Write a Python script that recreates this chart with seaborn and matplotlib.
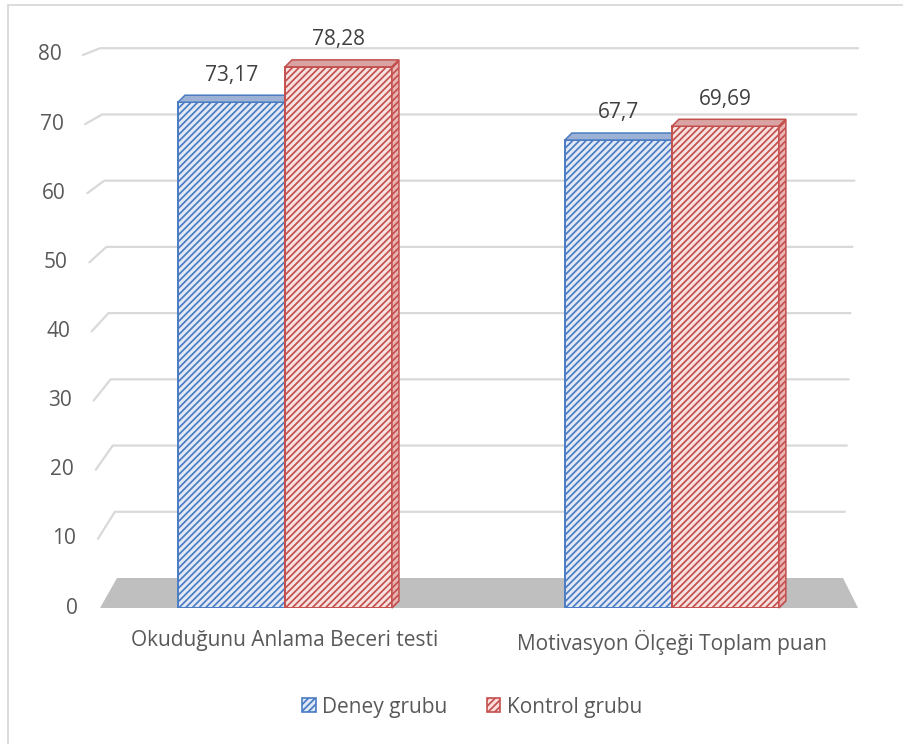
import numpy as np
import pandas as pd
import matplotlib
matplotlib.use("Agg")
import matplotlib.pyplot as plt
import seaborn as sns
from matplotlib.patches import Polygon, Rectangle, Patch

# ---- data ----
categories = ["Okuduğunu Anlama Beceri testi", "Motivasyon Ölçeği Toplam puan"]
series_names = ["Deney grubu", "Kontrol grubu"]
deney_values = [73.17, 67.7]
kontrol_values = [78.28, 69.69]
y_ticks = [0, 10, 20, 30, 40, 50, 60, 70, 80]

df = pd.DataFrame({
    "kategori": categories * 2,
    "grup": [series_names[0]] * len(categories) + [series_names[1]] * len(categories),
    "deger": deney_values + kontrol_values,
})

sns.set_theme(style="white")
plt.rcParams["font.family"] = ["Open Sans", "DejaVu Sans"]
plt.rcParams["hatch.linewidth"] = 1.25

W, H = 904, 744
fig = plt.figure(figsize=(W / 100, H / 100), dpi=100)
fig.patch.set_facecolor("white")

# plot-area geometry (pixels)
X_LEFT, X_RIGHT, Y_ZERO, Y_TOP = 100, 858, 608, 55
ax = fig.add_axes([X_LEFT / W, (H - Y_ZERO) / H, (X_RIGHT - X_LEFT) / W, (Y_ZERO - Y_TOP) / H])
ax.set_facecolor("none")

face = {series_names[0]: "#DFE8F7", series_names[1]: "#FBDEDD"}
edge = {series_names[0]: "#4A7CC4", series_names[1]: "#C4504E"}
topc = {series_names[0]: "#9CB1D3", series_names[1]: "#D8A3A2"}

sns.barplot(data=df, x="kategori", y="deger", hue="grup", order=categories,
            hue_order=series_names, palette=face, width=0.553, gap=0,
            ax=ax, legend=False, zorder=3, errorbar=None)

XMIN, XMAX = -0.478, 1.481
ax.set_xlim(XMIN, XMAX)
ax.set_ylim(0, 80)
PX_X = (X_RIGHT - X_LEFT) / (XMAX - XMIN)
PX_Y = (Y_ZERO - Y_TOP) / 80.0


def dx(px):
    return px / PX_X


def xd(px):
    return XMIN + (px - X_LEFT) / PX_X


def back(v):
    return 4.34 + 0.958 * v


# back-wall gridlines with perspective
for v in y_ticks[1:]:
    xs = [xd(100 - 0.2125 * v), xd(117 - 0.2125 * v), xd(843 + 0.19 * v)]
    ys = [v, back(v), back(v)]
    ax.plot(xs, ys, color="#D9D9D9", lw=1.6, clip_on=False, zorder=1,
            solid_joinstyle="miter")

# floor
floor = Polygon([(xd(100), 0), (xd(117), back(0)), (xd(843), back(0)), (xd(858), 0)],
                closed=True, facecolor="#BFBFBF", edgecolor="none", zorder=2, clip_on=False)
ax.add_patch(floor)

ddx, ddy = dx(7), 7 / PX_Y
for i, (name, cont) in enumerate(zip(series_names, ax.containers)):
    for p in cont:
        p.set_edgecolor(edge[name])
        p.set_hatch("/////")
        p.set_linewidth(1.4)
        p.set_zorder(3 + i)
        x0, w, h = p.get_x(), p.get_width(), p.get_height()
        top = Polygon([(x0, h), (x0 + ddx, h + ddy), (x0 + w + ddx, h + ddy), (x0 + w, h)],
                      closed=True, facecolor=topc[name], edgecolor=edge[name],
                      lw=1.1, zorder=3 + i, clip_on=False)
        ax.add_patch(top)
        if i == len(series_names) - 1:
            side = Polygon([(x0 + w, 0), (x0 + w, h), (x0 + w + ddx, h + ddy), (x0 + w + ddx, ddy)],
                           closed=True, facecolor="#E8B5B4", edgecolor=edge[name],
                           lw=1.1, hatch="/////", zorder=3 + i, clip_on=False)
            ax.add_patch(side)
    labels = [f"{v:g}".replace(".", ",") for v in cont.datavalues]
    ax.bar_label(cont, labels=labels, padding=12, fontsize=15, color="#404040")

for s in ax.spines.values():
    s.set_visible(False)
ax.set_yticks([])
for v in y_ticks:
    ax.text(xd(78 - 0.2 * v), v, str(v), ha="right", va="center", fontsize=15,
            color="#595959", clip_on=False)

ax.set_xlabel("")
ax.set_ylabel("")
ax.tick_params(axis="x", length=0, pad=16, labelsize=15, labelcolor="#595959")

handles = [Patch(facecolor=face[n], edgecolor=edge[n], hatch="/////", lw=1.2) for n in series_names]
fig.legend(handles, series_names, loc="center", bbox_to_anchor=(472 / W, 1 - 707 / H),
           ncol=2, frameon=False, fontsize=15, handlelength=0.65, handleheight=0.65,
           handletextpad=0.3, columnspacing=1.9, labelcolor="#595959")

# chart border
fig.patches.append(Rectangle((8 / W, -0.05), 1.2, 1.05 - 5 / H, transform=fig.transFigure,
                             fill=False, edgecolor="#D9D9D9", lw=1.3))

fig.savefig("out.png", dpi=100)
